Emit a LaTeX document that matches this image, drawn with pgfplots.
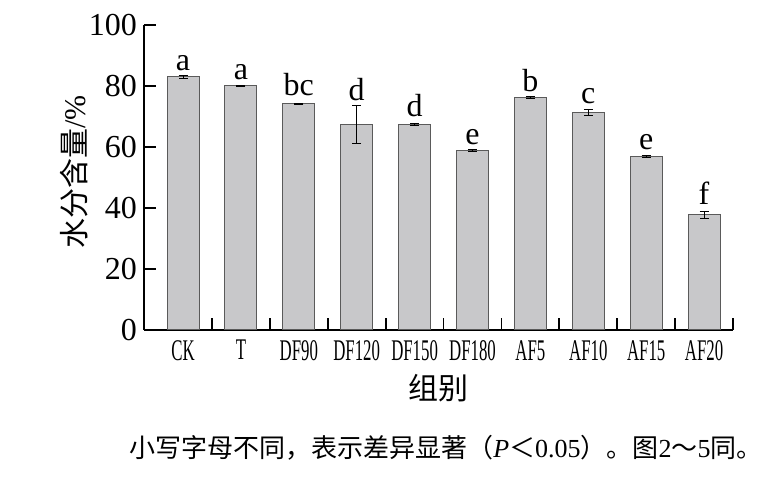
\documentclass[border=0pt]{standalone}
\usepackage{fontspec}
\setmainfont{Liberation Serif}
\newfontfamily\cjk{Noto Sans CJK SC}
\usepackage{graphicx}
\usepackage{pgfplots}
\pgfplotsset{compat=1.18}
\definecolor{barfill}{RGB}{200,200,202}
\definecolor{baredge}{RGB}{90,90,90}
% narrow tick labels, as in the original
\newcommand\nx[1]{\scalebox{0.56}[1]{#1}}

\begin{document}
\begin{tikzpicture}
\path[use as bounding box] (0,0) rectangle (774bp,482bp);
\begin{axis}[
    at={(144bp,152bp)}, anchor=south west,
    scale only axis,
    width=589bp, height=305bp,
    xmin=-0.674, xmax=9.5,
    ymin=0, ymax=100,
    axis lines=left,
    axis line style={line width=1.8bp, -},
    xtick={0,...,9},
    xticklabels={\nx{CK},\nx{T},\nx{DF90},\nx{DF120},\nx{DF150},\nx{DF180},\nx{AF5},\nx{AF10},\nx{AF15},\nx{AF20}},
    minor xtick={0.5,1.5,...,9.5},
    major x tick style={draw=none},
    minor tick length=12bp,
    ytick={0,20,...,100},
    major tick length=12bp,
    tick align=inside,
    tick style={line width=1.8bp, black},
    ticklabel style={font=\fontsize{32bp}{38bp}\selectfont},
    xticklabel style={font=\fontsize{30bp}{36bp}\selectfont, anchor=north, inner sep=0pt, yshift=-10bp},
    yticklabel style={anchor=east, inner sep=0pt, xshift=-7bp},
    /pgf/number format/assume math mode=true,
    xlabel={\cjk 组别},
    xlabel style={at={(axis description cs:0.5,-0.19)}, anchor=center, font=\fontsize{30bp}{36bp}\selectfont},
    ylabel={{\cjk 水分含量}/\%},
    ylabel style={at={(axis description cs:-0.119,0.518)}, anchor=center, font=\fontsize{30bp}{36bp}\selectfont},
    clip=false,
]
\addplot[ybar, bar width=32bp, fill=barfill, draw=baredge, line width=1bp,
    error bars/.cd, y dir=both, y explicit,
    error bar style={line width=1bp, black},
    error mark options={rotate=90, mark size=4.5bp, line width=1bp, black}]
coordinates {
    (0,83.0) +- (0,0.4)
    (1,80.0) +- (0,0.3)
    (2,74.1) +- (0,0.3)
    (3,67.3) +- (0,6.2)
    (4,67.4) +- (0,0.3)
    (5,58.8) +- (0,0.3)
    (6,76.2) +- (0,0.3)
    (7,71.4) +- (0,1.0)
    (8,56.8) +- (0,0.3)
    (9,37.8) +- (0,1.15)
};
% significance letters
\addplot[draw=none, mark=none, point meta=explicit symbolic,
    nodes near coords,
    every node near coord/.append style={anchor=base, inner sep=0pt,
        font=\fontsize{32bp}{38bp}\selectfont}]
coordinates {
    (0,85.2) [a]
    (1,82.0) [a]
    (2,77.0) [bc]
    (3,75.4) [d]
    (4,69.9) [d]
    (5,60.7) [e]
    (6,78.1) [b]
    (7,74.3) [c]
    (8,59.2) [e]
    (9,41.3) [f]
};
\end{axis}
\node[anchor=center, font=\fontsize{26bp}{31bp}\selectfont] at (446bp,34bp)
    {{\cjk 小写字母不同，表示差异显著（}\textit{P}{\cjk ＜}0.05{\cjk ）。图}2{\cjk ～}5{\cjk 同。}};
\end{tikzpicture}
\end{document}
